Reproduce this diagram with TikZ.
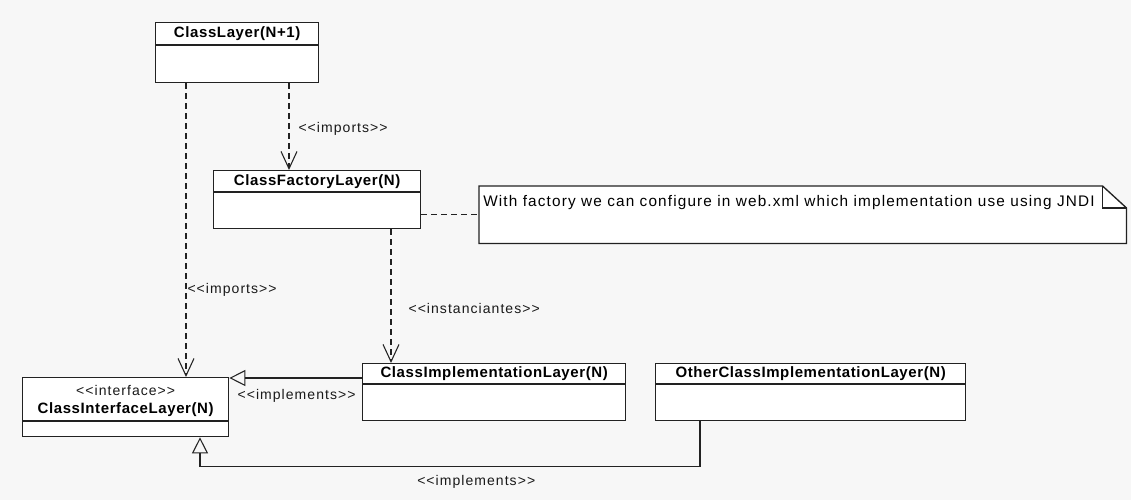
\documentclass[tikz,border=0pt]{standalone}
\usepackage{fontspec}
\setmainfont{Liberation Sans}
\newfontfamily\lblfont[LetterSpace=7.5]{Liberation Sans}
\newfontfamily\namefont[LetterSpace=4]{Liberation Sans Bold}
\usetikzlibrary{arrows.meta,calc}

\definecolor{bgc}{HTML}{F7F7F7}
\definecolor{linec}{HTML}{222222}
\newcommand\pxu{0.75pt}

\tikzset{
  umlbox/.style={draw=linec, fill=white, line width=1pt, inner sep=0pt, anchor=north west},
  clsname/.style={font=\namefont\fontsize{11.25pt}{13pt}\selectfont, inner sep=0pt, text=black},
  lbl/.style={font=\lblfont\fontsize{10.5pt}{12pt}\selectfont, inner sep=0pt, text=black!90},
  notetext/.style={font=\lblfont\fontsize{11.5pt}{13pt}\selectfont, inner sep=0pt, text=black},
  dep/.style={draw=linec, line width=0.8pt, dash pattern=on 4.5pt off 3pt,
    -{Straight Barb[length=13pt, width=12pt, line width=0.8pt]}},
  realize/.style={draw=linec, line width=0.8pt,
    -{Triangle[open, length=12pt, width=12pt, line width=0.8pt]}},
  divider/.style={draw=linec, line width=1pt},
}

\begin{document}
\begin{tikzpicture}[x=0.75pt, y=-0.75pt]
\useasboundingbox[fill=bgc] (0,0) rectangle (1131,500);

% class boxes
\node[umlbox, minimum width=163*\pxu, minimum height=60*\pxu] (layer) at (155,22) {};
\node[umlbox, minimum width=207*\pxu, minimum height=58*\pxu] (factory) at (213,170) {};
\node[umlbox, minimum width=206*\pxu, minimum height=59*\pxu] (iface) at (22,377) {};
\node[umlbox, minimum width=263*\pxu, minimum height=57*\pxu] (impl) at (362,363) {};
\node[umlbox, minimum width=310*\pxu, minimum height=57*\pxu] (other) at (655,363) {};

% compartment dividers
\draw[divider] ([yshift=-23*\pxu]layer.north west) -- ([yshift=-23*\pxu]layer.north east);
\draw[divider] ([yshift=-22*\pxu]factory.north west) -- ([yshift=-22*\pxu]factory.north east);
\draw[divider] ([yshift=-44*\pxu]iface.north west) -- ([yshift=-44*\pxu]iface.north east);
\draw[divider] ([yshift=-21*\pxu]impl.north west) -- ([yshift=-21*\pxu]impl.north east);
\draw[divider] ([yshift=-21*\pxu]other.north west) -- ([yshift=-21*\pxu]other.north east);

% class names
\node[clsname] (layerT) at ([yshift=-12*\pxu]layer.north) {ClassLayer(N+1)};
\node[clsname] (factoryT) at ([yshift=-11.5*\pxu]factory.north) {ClassFactoryLayer(N)};
\node[lbl] (ifaceS) at ([yshift=-13*\pxu]iface.north) {<<interface>>};
\node[clsname] (ifaceT) at ([yshift=-33*\pxu]iface.north) {ClassInterfaceLayer(N)};
\node[clsname] (implT) at ([yshift=-11*\pxu]impl.north) {ClassImplementationLayer(N)};
\node[clsname] (otherT) at ([yshift=-11*\pxu]other.north) {OtherClassImplementationLayer(N)};

% note with folded corner
\node[inner sep=0pt, minimum width=647*\pxu, minimum height=57*\pxu, anchor=north west] (note) at (479,186) {};
\draw[draw=linec, fill=white, line width=1pt]
  (note.north west) -- ([xshift=-24*\pxu]note.north east)
  -- ([yshift=-22*\pxu]note.north east) -- (note.south east)
  -- (note.south west) -- cycle;
\draw[draw=linec, line width=1pt]
  ([xshift=-24*\pxu]note.north east) -- ([xshift=-24*\pxu, yshift=-22*\pxu]note.north east)
  -- ([yshift=-22*\pxu]note.north east);
\node[notetext, anchor=west] (noteT) at ([xshift=4*\pxu, yshift=-17*\pxu]note.north west)
  {With factory we can configure in web.xml which implementation use using JNDI};

% dependencies
\coordinate (fIn) at ([xshift=76*\pxu]factory.north west);
\draw[dep] (layer.south -| fIn) -- (fIn)
  node[lbl, anchor=west, pos=0.52, xshift=9*\pxu] (impA) {<<imports>>};

\coordinate (lOut) at ([xshift=31*\pxu]layer.south west);
\draw[dep] (lOut) -- (lOut |- iface.north)
  node[lbl, anchor=west, pos=0.705, xshift=1*\pxu] (impB) {<<imports>>};

\coordinate (iIn) at ([xshift=29*\pxu]impl.north west);
\draw[dep] (factory.south -| iIn) -- (iIn)
  node[lbl, anchor=west, pos=0.59, xshift=17*\pxu] (inst) {<<instanciantes>>};

\draw[draw=linec, line width=0.8pt, dash pattern=on 4.5pt off 3pt]
  (factory.east |- note.west) -- (note.west);

% realizations
\coordinate (rOut) at ([yshift=-15*\pxu]impl.north west);
\draw[realize] (rOut) -- (rOut -| iface.east);
\node[lbl, anchor=west] (implA) at ([xshift=8*\pxu, yshift=-19*\pxu]iface.north east) {<<implements>>};

\coordinate (oOut) at ([xshift=45*\pxu]other.south west);
\coordinate (iIn2) at ([xshift=178*\pxu]iface.south west);
\draw[realize] (oOut) -- ([yshift=-45*\pxu]oOut) -| (iIn2);
\node[lbl, anchor=west] (implB) at ([xshift=-283*\pxu, yshift=-61*\pxu]oOut) {<<implements>>};
\end{tikzpicture}
\end{document}
